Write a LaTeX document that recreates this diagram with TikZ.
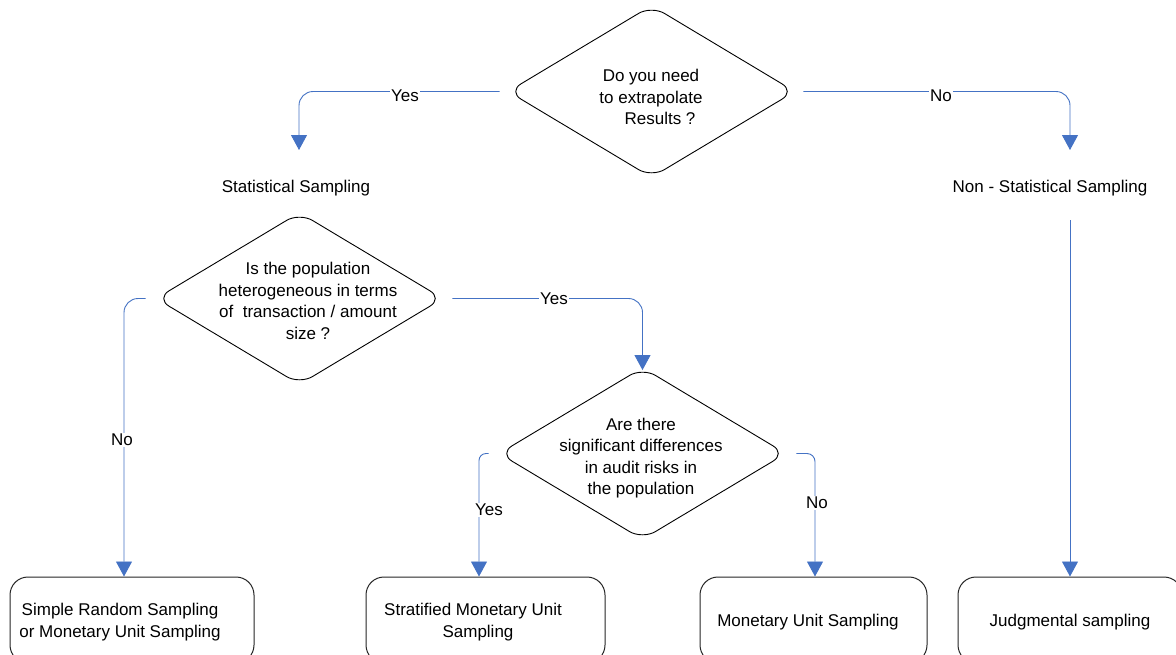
\documentclass[tikz,border=0pt]{standalone}
\usepackage{fontspec}
\setmainfont{Liberation Sans}
\usetikzlibrary{arrows.meta,shapes.geometric}
\definecolor{cblue}{HTML}{4472C4}
\begin{document}
\begin{tikzpicture}[x=1pt,y=-1pt,
  every node/.style={font=\fontsize{17}{21.5}\selectfont},
  dia/.style={diamond, draw=black, line width=0.9pt, rounded corners=15pt,
    minimum width=287pt, minimum height=172pt, inner sep=0pt},
  txt/.style={align=center, inner sep=0pt, yshift=-2pt},
  stepbox/.style={draw=black!85, line width=1pt, rounded corners=18pt,
    minimum height=86pt, inner sep=0pt},
  conn/.style={draw=cblue, line width=0.9pt, rounded corners=14pt,
    -{Triangle[width=16pt,length=15pt]}},
  lbl/.style={fill=white, inner sep=1pt, yshift=-2pt}
]
\useasboundingbox (0,0) rectangle (1176,654);
\fill[white] (0,0) rectangle (1176,654);
\clip (0,0) rectangle (1176,654);

% decisions
\node[dia] (d1) at (651.5,91.5) {};
\node[txt] (t1) at (651,95) {Do you need\\to extrapolate\\\hspace*{18pt}Results ?};
\node[dia] (d2) at (299.5,298.5) {};
\node[txt] (t2) at (308,299) {Is the population\\heterogeneous in terms\\of\ \ transaction / amount\\size ?};
\node[dia] (d3) at (642.5,453.5) {};
\node[txt] (t3) at (641,456) {Are there\\significant differences\\in audit risks in\\the population};

% plain texts
\node[txt] (ss) at (296,186) {Statistical Sampling};
\node[txt] (nss) at (1050,186) {Non - Statistical Sampling};

% boxes
\node[stepbox, minimum width=244pt] (b1) at (132,620) {};
\node[txt] (bt1) at (120,620) {Simple Random Sampling\\or Monetary Unit Sampling};
\node[stepbox, minimum width=239pt] (b2) at (485.5,620) {};
\node[txt] (bt2) at (473,620) {Stratified Monetary Unit\\\hspace*{10pt}Sampling};
\node[stepbox, minimum width=227pt] (b3) at (813.5,620) {};
\node[txt] (bt3) at (808,620) {Monetary Unit Sampling};
\node[stepbox, minimum width=224pt] (b4) at (1070,620) {};
\node[txt] (bt4) at (1070,620) {Judgmental sampling};

% connector ends
\coordinate (a1) at (299,150);
\coordinate (a2) at (1070,150);
\coordinate (s3) at (1070,220);

% connectors
\draw[conn] ([xshift=-8pt]d1.west) -| (a1);
\node[lbl] (l1) at (405,94) {Yes};
\draw[conn] ([xshift=8pt]d1.east) -| (a2);
\node[lbl] (l2) at (941,94) {No};
\draw[conn] (s3) -- (b4.north);
\draw[conn] ([xshift=-10pt]d2.west) -| ([xshift=-8pt]b1.north);
\node[lbl] (l3) at (122,438) {No};
\draw[conn, shorten >=-3pt] ([xshift=9pt]d2.east) -| (d3.north);
\node[lbl] (l4) at (554,297) {Yes};
\draw[conn, rounded corners=7pt] ([xshift=-10pt]d3.west) -| ([xshift=-6.5pt]b2.north);
\node[lbl] (l5) at (489,508) {Yes};
\draw[conn, rounded corners=8pt] ([xshift=10pt]d3.east) -| ([xshift=1.5pt]b3.north);
\node[lbl] (l6) at (817,501) {No};
\end{tikzpicture}
\end{document}
